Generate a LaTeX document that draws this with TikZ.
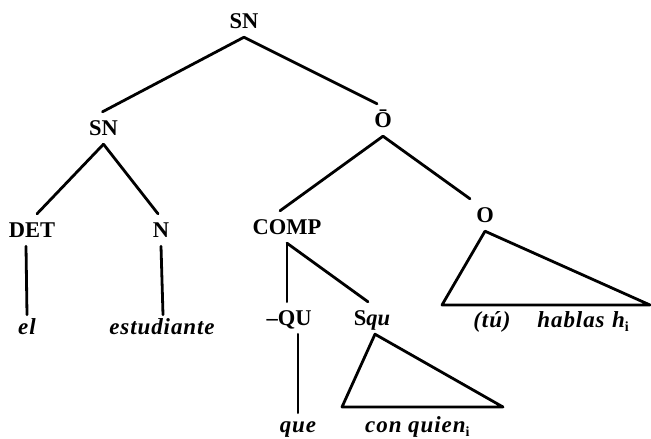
\documentclass[tikz,border=0pt]{standalone}
\usepackage{fontspec}
\setmainfont{Liberation Serif}
\newfontfamily\leaffont[LetterSpace=4]{Liberation Serif}
\newcommand{\subidx}{\raisebox{-4pt}{\fontsize{14}{14}\selectfont\upshape\bfseries i}}
\begin{document}
\begin{tikzpicture}[x=1pt,y=-1pt,
  lbl/.style={font=\fontsize{22.5}{26}\selectfont\bfseries, inner xsep=0pt, inner ysep=9pt,
    text height=14pt, text depth=0pt, anchor=center},
  leaf/.style={font=\leaffont\fontsize{23}{26}\selectfont\bfseries\itshape, inner xsep=0pt, inner ysep=9pt,
    text height=10pt, text depth=0pt, anchor=base},
  branch/.style={line width=2.8pt, line cap=round, line join=round}]
\useasboundingbox (0,0) rectangle (651,439);
% labels
\node[lbl] (top) at (244,21) {SN};
\node[lbl] (snl) at (103.5,128) {SN};
\node[lbl] (obar) at (383,120) {Ō};
\node[lbl] (det) at (32,230) {DET};
\node[lbl] (n) at (161,230) {N};
\node[lbl] (comp) at (287,227) {COMP};
\node[lbl] (o) at (485,215) {O};
\node[lbl] (qu) at (289,318) {–QU};
\node[lbl] (squ) at (372,318) {S\textit{qu}};
% leaves
\node[leaf] (el) at (27,334) {el};
\node[leaf] (est) at (162,334) {estudiante};
\node[leaf] (que) at (298,432) {que};
\node[leaf, anchor=base west] (conq) at (365,432) {con quien\subidx};
\node[leaf] (tu) at (492,327) {(tú)};
\node[leaf] (hab) at (571,327) {hablas};
\node[leaf, anchor=base west] (hi) at (612,327) {h\subidx};
% triangle corners
\coordinate (sq-l) at (342,407);
\coordinate (sq-r) at (503,407);
\coordinate (o-l) at (442,305);
\coordinate (o-r) at (650,305);
% branches
\draw[branch] (top.south) -- ([xshift=-1pt]snl.north);
\draw[branch] (top.south) -- ([xshift=-6pt]obar.north);
\draw[branch] (snl.south) -- ([xshift=5pt]det.north);
\draw[branch] (snl.south) -- ([xshift=-3pt]n.north);
\draw[branch] ([xshift=-6pt]det.south) -- (el.north);
\draw[branch] (n.south) -- ([xshift=1pt]est.north);
\draw[branch] (obar.south) -- ([xshift=-7pt]comp.north);
\draw[branch] (obar.south) -- ([xshift=-15pt]o.north);
\draw[branch] (comp.south) -- (comp.south |- qu.north);
\draw[branch] (comp.south) -- ([xshift=-4pt]squ.north);
\draw[branch] (qu.south -| que.north) -- (que.north);
\draw[branch] ([xshift=3pt]squ.south) -- (sq-l) -- (sq-r) -- cycle;
\draw[branch] (o.south) -- (o-l) -- (o-r) -- cycle;
\end{tikzpicture}
\end{document}
